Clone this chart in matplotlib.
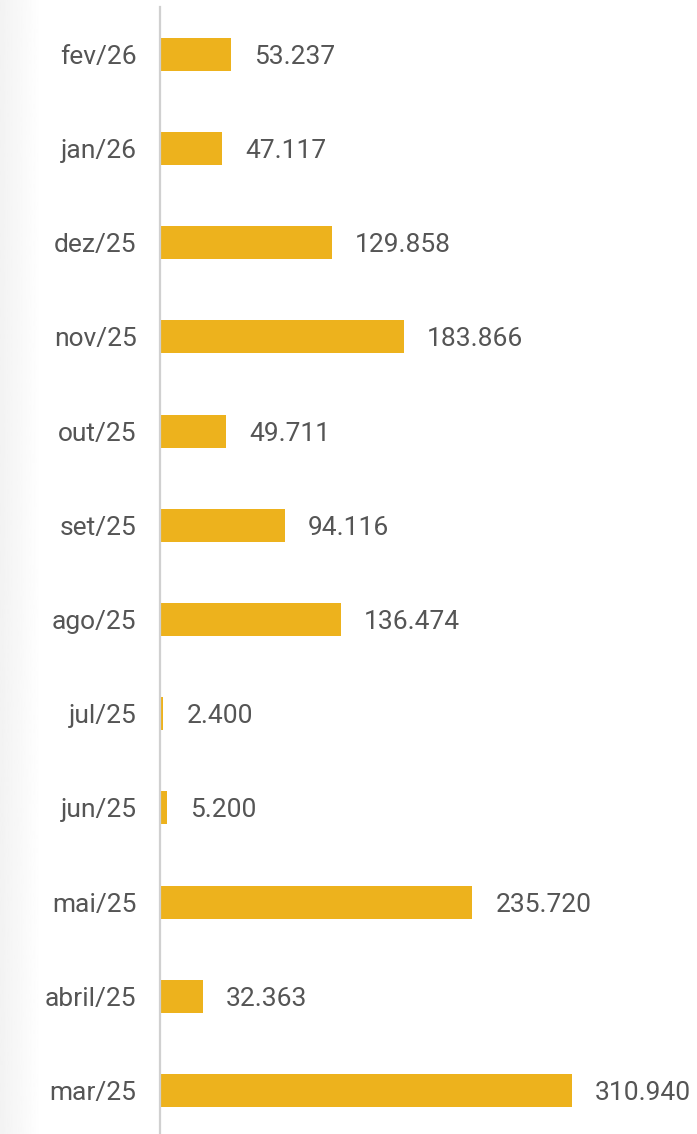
import numpy as np
import matplotlib.pyplot as plt

plt.rcParams['font.family'] = ['Roboto', 'DejaVu Sans']

months = ['fev/26', 'jan/26', 'dez/25', 'nov/25', 'out/25', 'set/25',
          'ago/25', 'jul/25', 'jun/25', 'mai/25', 'abril/25', 'mar/25']
values = [53237, 47117, 129858, 183866, 49711, 94116,
          136474, 2400, 5200, 235720, 32363, 310940]

def fmt(v):
    return f'{v:,}'.replace(',', '.')

fig = plt.figure(figsize=(6.97, 11.34), dpi=100)

# faint grey shade on the left edge
bg = fig.add_axes([0, 0, 0.06, 1])
grad = np.linspace(0.95, 1.0, 50).reshape(1, -1)
bg.imshow(grad, cmap='gray', vmin=0, vmax=1, aspect='auto', extent=[0, 1, 0, 1])
bg.axis('off')

ax = fig.add_axes([160 / 697, 0, 1 - 160 / 697, 1 - 7 / 1134])
y = np.arange(len(months))
ax.barh(y, values, height=0.35, color='#EDB21D')
for yi, v in zip(y, values):
    ax.text(v + 17500, yi, fmt(v), va='center_baseline', ha='left',
            fontsize=19, color='#555555')

ax.set_ylim(11.46, -0.5)
ax.set_xlim(0, 405300)
ax.set_yticks(y)
ax.set_yticklabels(months, fontsize=19, color='#555555', va='center_baseline')
ax.tick_params(axis='y', length=0, pad=17)
ax.set_xticks([])
for s in ['top', 'right', 'bottom']:
    ax.spines[s].set_visible(False)
ax.spines['left'].set_color('#d0d0d0')
ax.spines['left'].set_linewidth(1.6)
ax.patch.set_alpha(0)

fig.savefig('out.png', dpi=100)
